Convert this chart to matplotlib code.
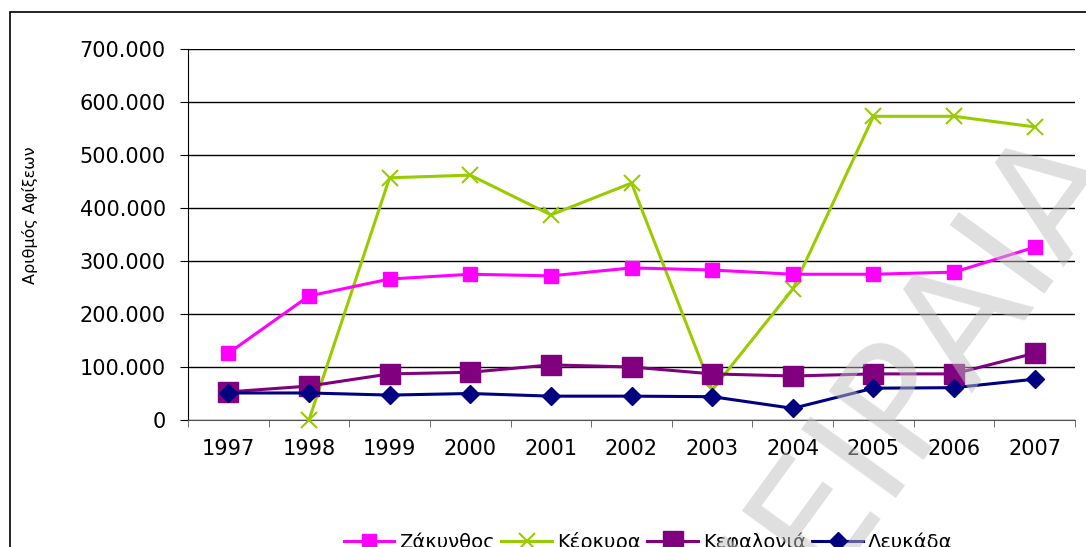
import matplotlib.pyplot as plt
from matplotlib.patches import Rectangle
from matplotlib.ticker import FuncFormatter
import numpy as np

years = ['1997', '1998', '1999', '2000', '2001', '2002', '2003', '2004', '2005', '2006', '2007']
zakynthos = [126000, 234000, 266000, 275000, 272000, 287000, 283000, 275000, 275000, 279000, 326000]
kerkyra = [np.nan, 0, 457000, 462000, 387000, 447000, 57000, 247000, 573000, 573000, 553000]
kefalonia = [53000, 64000, 87000, 90000, 104000, 100000, 87000, 83000, 87000, 87000, 126000]
lefkada = [51000, 51000, 47000, 50000, 45000, 45000, 44000, 22000, 60000, 61000, 77000]

fig = plt.figure(figsize=(10.86, 5.47), dpi=100)
ax = fig.add_axes([188/1086, 1-420/547, (1075-188)/1086, (420-49)/547])

x = np.arange(len(years))
ax.plot(x, zakynthos, color='#FF00FF', lw=2.2, marker='s', ms=10, label='Ζάκυνθος', zorder=4)
ax.plot(x, kerkyra, color='#99CC00', lw=2.2, marker='x', ms=11, mew=1.5, label='Κέρκυρα', zorder=3,
        clip_on=False)
ax.plot(x, kefalonia, color='#800080', lw=2.2, marker='s', ms=14, label='Κεφαλονιά', zorder=4)
ax.plot(x, lefkada, color='#000080', lw=2.2, marker='D', ms=9, label='Λευκάδα', zorder=5)

ax.set_xlim(-0.5, 10.5)
ax.set_ylim(0, 700000)
ax.set_yticks(np.arange(0, 700001, 100000))
ax.yaxis.set_major_formatter(FuncFormatter(lambda v, p: '0' if v == 0 else f'{int(v):,}'.replace(',', '.')))
ax.set_xticks(x)
ax.set_xticklabels(years)
ax.set_xticks(np.arange(-0.5, 11, 1), minor=True)
ax.tick_params(axis='x', which='major', length=0, pad=14, labelsize=15)
ax.tick_params(axis='x', which='minor', length=5, color='#555555', direction='out')
ax.tick_params(axis='y', length=6, pad=10, labelsize=15, direction='out')
ax.grid(axis='y', color='black', lw=1)
ax.spines['top'].set_visible(False)
ax.spines['right'].set_visible(False)
ax.spines['bottom'].set_color('#555555')

fig.text(30/1086, 1-215/547, 'Αριθμός Αφίξεων', rotation=90, ha='center', va='center', fontsize=11.5)

fig.legend(loc='center', bbox_to_anchor=(648/1086, 1-542/547), ncol=4, frameon=False,
           fontsize=14, handlelength=2.6, handletextpad=0.25, columnspacing=0.35, borderpad=0)

fig.patches.append(Rectangle((10/1086, -0.2), 1.2, 1.2 - 12/547, transform=fig.transFigure,
                             fill=False, edgecolor='black', lw=1.2))

# watermark
fig.text(900/1086, 1-395/547, 'ΠΕΙΡΑΙΑ', rotation=54, ha='center', va='center', fontsize=115,
         color='#c0c0c0', alpha=0.5, zorder=10)

fig.savefig('out.png', dpi=100)
